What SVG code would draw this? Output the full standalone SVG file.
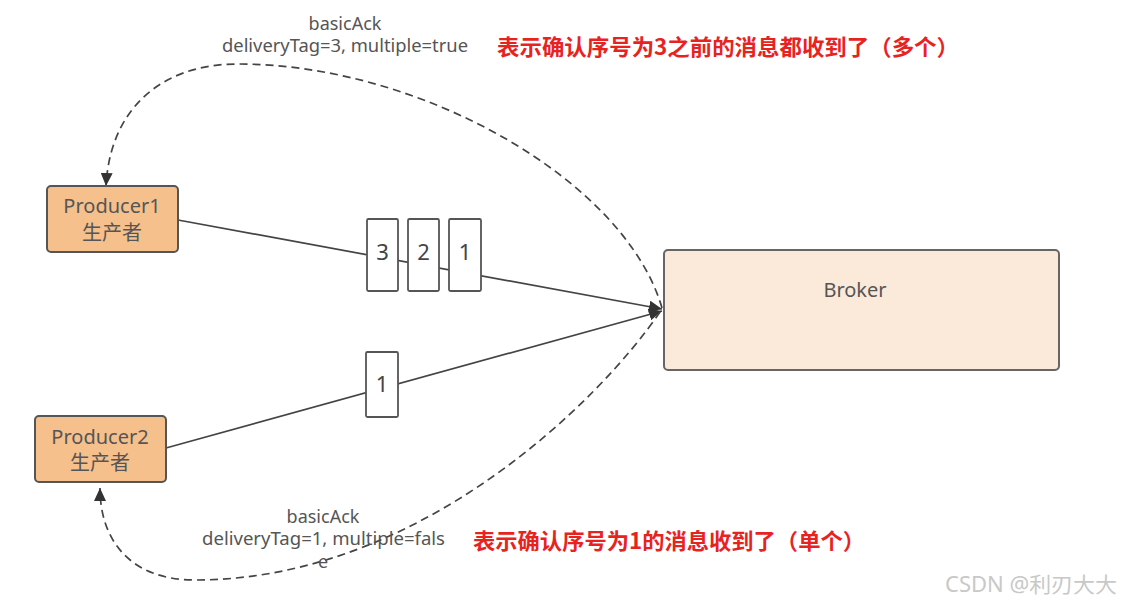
<svg xmlns="http://www.w3.org/2000/svg" width="1121" height="604" viewBox="0 0 1121 604">
<style>
.lbl{font-family:"Noto Sans","Liberation Sans",sans-serif;fill:#555;font-size:18px}
.nd{font-family:"Noto Sans","Noto Sans CJK SC",sans-serif;fill:#555;font-size:20px}
.num{font-family:"Noto Sans","Liberation Sans",sans-serif;fill:#444;font-size:22px}
.red{font-family:"Noto Sans CJK SC","Noto Sans",sans-serif;fill:#E8231F;font-size:22px;font-weight:bold}
.prod{fill:#F5C08C;stroke:#555;stroke-width:2}
.msg{fill:#fff;stroke:#555;stroke-width:1.8}
.solid{fill:none;stroke:#444;stroke-width:1.7}
.dash{fill:none;stroke:#444;stroke-width:1.7;stroke-dasharray:8 5}
</style>
<defs>
<marker id="arr" markerUnits="userSpaceOnUse" markerWidth="14" markerHeight="12" refX="13" refY="6" orient="auto">
<path d="M0,0 L13,6 L0,12 Z" fill="#333"/>
</marker>
</defs>
<rect width="1121" height="604" fill="#fff"/>
<g id="connectors">
<path class="solid" d="M178,220 L662,309" marker-end="url(#arr)"/>
<path class="solid" d="M166,448 L662,311" marker-end="url(#arr)"/>
<path class="dash" d="M662,308 C625,180 420,64 238,64 C160,64 110,110 106,186" marker-end="url(#arr)"/>
<path class="dash" d="M660,312 C600,400 420,580 195,580 C130,580 100,540 100,488" marker-end="url(#arr)"/>
</g>
<g id="producer1">
<rect class="prod" x="47" y="186" width="131" height="66" rx="4"/>
<text class="nd" x="112" y="213" text-anchor="middle">Producer1</text>
<text class="nd" x="112" y="240" text-anchor="middle" font-size="19">生产者</text>
</g>
<g id="producer2">
<rect class="prod" x="35" y="416" width="131" height="66" rx="4"/>
<text class="nd" x="100" y="444" text-anchor="middle">Producer2</text>
<text class="nd" x="100" y="470" text-anchor="middle" font-size="19">生产者</text>
</g>
<g id="broker">
<rect x="664" y="250" width="395" height="120" rx="4" fill="#FBE9DA" stroke="#666" stroke-width="2"/>
<text class="nd" x="855" y="297" text-anchor="middle">Broker</text>
</g>
<g id="msg3"><rect class="msg" x="367" y="219" width="31" height="72" rx="1.5"/><text class="num" x="382.5" y="260" text-anchor="middle">3</text></g>
<g id="msg2"><rect class="msg" x="408" y="219" width="31" height="72" rx="1.5"/><text class="num" x="423.5" y="260" text-anchor="middle">2</text></g>
<g id="msg1"><rect class="msg" x="449" y="219" width="32" height="72" rx="1.5"/><text class="num" x="465" y="260" text-anchor="middle">1</text></g>
<g id="msg1b"><rect class="msg" x="366" y="352" width="32" height="65" rx="1.5"/><text class="num" x="382" y="392" text-anchor="middle">1</text></g>
<g id="ack-top">
<text class="lbl" x="345" y="30" text-anchor="middle">basicAck</text>
<text class="lbl" x="222" y="52" textLength="246" lengthAdjust="spacingAndGlyphs">deliveryTag=3, multiple=true</text>
</g>
<g id="ack-bottom">
<text class="lbl" x="323" y="523" text-anchor="middle">basicAck</text>
<text class="lbl" x="202" y="545" textLength="243" lengthAdjust="spacingAndGlyphs">deliveryTag=1, multiple=fals</text>
<text class="lbl" x="323" y="568" text-anchor="middle">e</text>
</g>
<text class="red" x="497" y="55" textLength="462" lengthAdjust="spacingAndGlyphs">表示确认序号为3之前的消息都收到了（多个）</text>
<text class="red" x="473" y="549" textLength="392" lengthAdjust="spacingAndGlyphs">表示确认序号为1的消息收到了（单个）</text>
<text x="945" y="592" font-family="Noto Sans,Noto Sans CJK SC,sans-serif" font-size="21" fill="#c8c8c8" textLength="172" lengthAdjust="spacingAndGlyphs">CSDN @利刃大大</text>
</svg>
